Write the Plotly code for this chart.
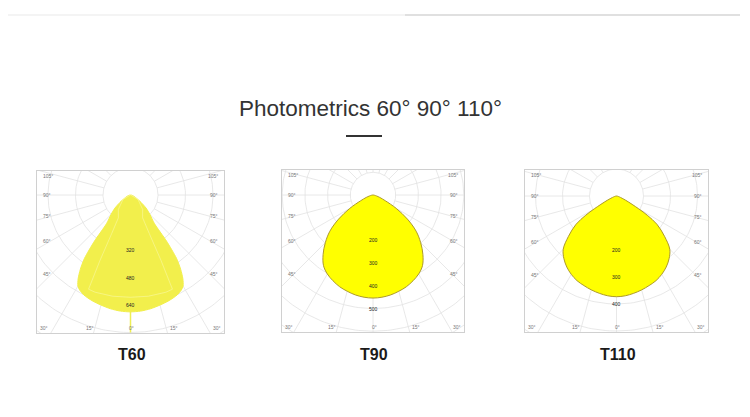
import numpy as np
import plotly.graph_objects as go

W, H = 750, 417
FONT = "Liberation Sans, Arial, sans-serif"

# half-plane readings (degrees from nadir, 0 = straight down), candela-ish units
t60_angles = [0, 5, 10, 15, 20, 25, 28, 30, 32, 34, 36, 38, 40, 45, 50, 55, 60, 70, 80, 90]
t60_cd = [680, 678, 672, 663, 654, 642, 628, 612, 575, 522, 455, 340, 215, 160, 118, 75, 45, 20, 8, 0]
t60_inner_angles = [0, 10, 20, 24, 25, 26, 28, 40, 60, 90]
t60_inner_cd = [595, 598, 602, 600, 420, 250, 150, 110, 50, 0]
t60_spike_cd = [680, 800]

t90_angles = [0, 5, 10, 15, 20, 25, 30, 35, 40, 45, 50, 55, 60, 65, 70, 75, 80, 85, 90]
t90_cd = [454, 452, 447, 439, 430, 417, 402, 380, 342, 297, 248, 185, 118, 60, 32, 16, 7, 3, 0]

t110_angles = [0, 5, 10, 15, 20, 25, 30, 35, 40, 45, 50, 55, 58, 60, 65, 70, 75, 80, 90]
t110_cd = [373, 371, 366, 360, 353, 346, 335, 321, 303, 279, 232, 183, 134, 95, 38, 16, 8, 4, 0]

t60_ring_labels = [320, 480, 640]
t90_ring_labels = [200, 300, 400, 500]
t110_ring_labels = [200, 300, 400]

side_ticks = [105, 90, 75, 60, 45]
bottom_ticks = [-30, -15, 0, 15, 30]

chart_names = ["T60", "T90", "T110"]

# box in page pixels: x0, x1, y0, y1, centre x, centre y; ring step and its pixel radius
charts = [
    dict(box=(37, 224, 171, 333, 130.5, 195), step=160, step_px=27.5,
         angles=t60_angles, cd=t60_cd, rings=t60_ring_labels,
         fill="#f2ef4c", line="#f2ef4c", smooth=0.7),
    dict(box=(282, 464, 170, 332, 373, 195), step=100, step_px=22.7,
         angles=t90_angles, cd=t90_cd, rings=t90_ring_labels,
         fill="#ffff00", line="#ad9a2a", smooth=1.0),
    dict(box=(525, 708, 170, 332, 616.5, 196), step=100, step_px=27.0,
         angles=t110_angles, cd=t110_cd, rings=t110_ring_labels,
         fill="#ffff00", line="#ad9a2a", smooth=1.0),
]


def to_xy(angles, cd):
    rad = np.radians(np.asarray(angles, dtype=float))
    r = np.asarray(cd, dtype=float)
    return r * np.sin(rad), -r * np.cos(rad)


def mirrored(angles, cd):
    full_a = [-a for a in reversed(angles)] + list(angles[1:])
    full_r = list(reversed(cd)) + list(cd[1:])
    return full_a, full_r


def label(x, y, text, size, color, **kw):
    # x, y in page pixels
    d = dict(x=x / W, y=1 - y / H, xref="paper", yref="paper", text=text,
             showarrow=False, xanchor="center", yanchor="middle",
             font=dict(size=size, color=color, family=FONT))
    d.update(kw)
    return d


fig = go.Figure()
annotations = []
grid_color = "#e2e2e2"

for i, ch in enumerate(charts, start=1):
    x0, x1, y0, y1, cx, cy = ch["box"]
    u = ch["step"] / ch["step_px"]
    xa, ya = f"x{i}", f"y{i}"
    suffix = "" if i == 1 else str(i)

    # rings
    rx, ry = [], []
    t = np.linspace(0, 360, 241)
    for k in range(1, 9):
        gx, gy = to_xy(t, [k * ch["step"]] * len(t))
        rx += list(gx) + [None]
        ry += list(gy) + [None]
    fig.add_trace(go.Scatter(x=rx, y=ry, mode="lines", xaxis=xa, yaxis=ya,
                             line=dict(color=grid_color, width=0.8),
                             hoverinfo="skip", showlegend=False))
    # spokes, starting at the first ring
    sx, sy = [], []
    for a in range(0, 360, 15):
        gx, gy = to_xy([a, a], [ch["step"], 12 * ch["step"]])
        sx += list(gx) + [None]
        sy += list(gy) + [None]
    fig.add_trace(go.Scatter(x=sx, y=sy, mode="lines", xaxis=xa, yaxis=ya,
                             line=dict(color=grid_color, width=0.8),
                             hoverinfo="skip", showlegend=False))

    fa, fr = mirrored(ch["angles"], ch["cd"])
    px_, py_ = to_xy(fa, fr)
    fig.add_trace(go.Scatter(x=px_, y=py_, mode="lines", fill="toself",
                             fillcolor=ch["fill"], xaxis=xa, yaxis=ya,
                             line=dict(color=ch["line"], width=1, shape="spline",
                                       smoothing=ch["smooth"]),
                             name=chart_names[i - 1], showlegend=False))

    if i == 1:
        ia, ir = mirrored(t60_inner_angles, t60_inner_cd)
        qx, qy = to_xy(ia, ir)
        fig.add_trace(go.Scatter(x=qx, y=qy, mode="lines", xaxis=xa, yaxis=ya,
                                 line=dict(color="rgba(255,255,225,0.45)", width=0.8),
                                 hoverinfo="skip", showlegend=False))
        kx, ky = to_xy([0, 0], t60_spike_cd)
        fig.add_trace(go.Scatter(x=kx, y=ky, mode="lines", xaxis=xa, yaxis=ya,
                                 line=dict(color="#eeee55", width=1.5),
                                 hoverinfo="skip", showlegend=False))

    axis_common = dict(showgrid=False, zeroline=False, showticklabels=False, ticks="",
                       showline=True, mirror=True, linecolor="#d0d0d0", linewidth=1.2,
                       fixedrange=True)
    fig.update_layout(**{
        f"xaxis{suffix}": dict(domain=[x0 / W, x1 / W],
                               range=[-(cx - x0) * u, (x1 - cx) * u],
                               anchor=ya, **axis_common),
        f"yaxis{suffix}": dict(domain=[1 - y1 / H, 1 - y0 / H],
                               range=[-(y1 - cy) * u, (cy - y0) * u],
                               anchor=xa, **axis_common),
    })

    # ring value labels along the nadir spoke
    for val in ch["rings"]:
        annotations.append(dict(x=0, y=-val, xref=xa, yref=ya, text=str(val),
                                showarrow=False, xanchor="center", yanchor="middle",
                                font=dict(size=5, color="#222", family=FONT)))

    # angle labels on the box edges
    for a in side_ticks:
        ty = cy + 79 / np.tan(np.radians(a)) if a != 90 else cy
        ty = max(ty, y0 + 5)
        annotations.append(label(x0 + 4, ty, f"{a}°", 5, "#777", xanchor="left"))
        annotations.append(label(x1 - 4, ty, f"{a}°", 5, "#777", xanchor="right"))
    for a in bottom_ticks:
        if abs(a) == 30:
            tx = x0 + 7 if a < 0 else x1 - 7
        else:
            tx = cx + 42 * np.sign(a) + 1
        annotations.append(label(tx, y1 - 5, f"{abs(a)}°", 5, "#777"))

    annotations.append(label(cx + 1, 354, f"<b>{chart_names[i - 1]}</b>", 16, "#1a1a1a"))

annotations.append(label(370, 109, "Photometrics 60° 90° 110°", 22.5, "#333"))

shapes = [
    dict(type="line", xref="paper", yref="paper", x0=346 / W, x1=382 / W,
         y0=1 - 136 / H, y1=1 - 136 / H, line=dict(color="#333", width=2)),
    dict(type="line", xref="paper", yref="paper", x0=8 / W, x1=405 / W,
         y0=1 - 15 / H, y1=1 - 15 / H, line=dict(color="#f0f0f0", width=1.5)),
    dict(type="line", xref="paper", yref="paper", x0=405 / W, x1=740 / W,
         y0=1 - 15 / H, y1=1 - 15 / H, line=dict(color="#e0e0e0", width=2)),
]

fig.update_layout(width=W, height=H, margin=dict(l=0, r=0, t=0, b=0),
                  paper_bgcolor="white", plot_bgcolor="white",
                  annotations=annotations, shapes=shapes, showlegend=False,
                  font=dict(family=FONT))

fig.write_html("out.html", config={"displayModeBar": False},
               post_script="document.body.style.margin = '0';")
